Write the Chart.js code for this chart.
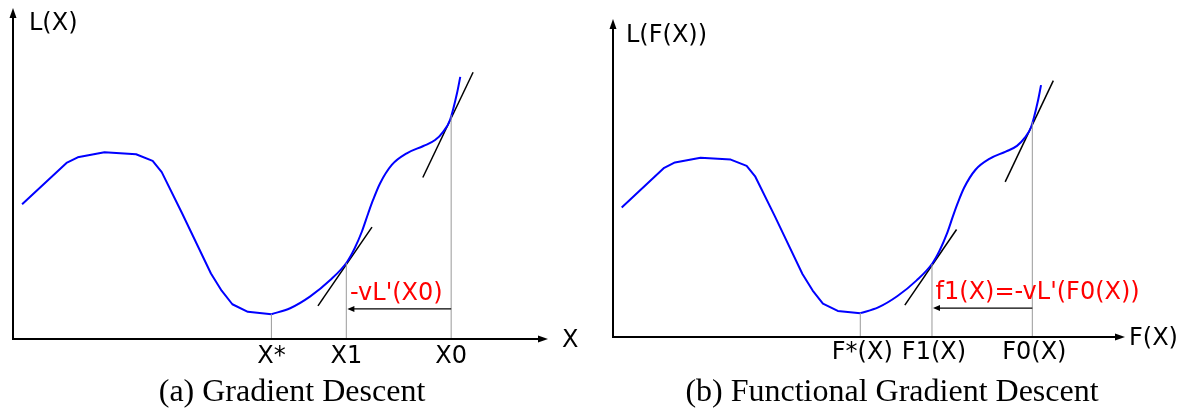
<!DOCTYPE html>
<html>
<head>
<meta charset="utf-8">
<script src="https://cdn.jsdelivr.net/npm/chart.js@4"></script>
<style>
  html, body { margin: 0; padding: 0; background: #fff; }
  #wrap { position: relative; width: 1194px; height: 412px; }
  .panel { position: absolute; top: 0; width: 597px; height: 412px; }
</style>
</head>
<body>
<div id="wrap">
  <div class="panel" style="left:0"><canvas id="chartA" width="597" height="412"></canvas></div>
  <div class="panel" style="left:597px"><canvas id="chartB" width="597" height="412"></canvas></div>
</div>
<script>
// loss curve, same shape in both panels (units 0..100 on both axes)
// left part is a polyline down to the minimum, right part is smooth
const leftX = [1.7, 10.0, 12.1, 17.1, 23.0, 26.1, 27.8, 31.6, 37.0, 39.0, 41.0, 43.9, 48.3];
const leftY = [40.7, 53.2, 54.9, 56.4, 55.8, 53.8, 50.4, 38.0, 19.8, 14.6, 10.5, 8.2, 7.5];
const rightX = [48.3, 51.8, 55.5, 59.3, 62.4, 63.8, 65.2, 66.4, 67.3, 68.6, 70.8, 73.6, 76.7, 78.9, 80.4, 81.7, 83.0, 83.6];
const rightY = [7.5, 9.3, 12.8, 17.8, 23.2, 27.2, 32.4, 38.0, 42.0, 47.0, 52.6, 56.1, 58.3, 60.1, 62.6, 66.2, 74.3, 79.2];

// tangent segments at X1 and X0
const tangent1X = [57.0, 67.1];
const tangent1Y = [10.0, 33.8];
const tangent0X = [76.6, 86.0];
const tangent0Y = [48.8, 80.6];

// marked positions on the x axis (optimum, step 1, start) and curve height there
const markX = [48.3, 62.3, 81.9];
const markY = [7.5, 23.0, 67.7];
const tickLabelsA = ['X*', 'X1', 'X0'];
const tickLabelsB = ['F*(X)', 'F1(X)', 'F0(X)'];

// step arrow from X0 back to X1
const stepFrom = 81.9;
const stepTo = 62.5;
const stepY = 9.1;
const stepLabelX = 63.0;
const stepLabelY = 11.9;

const axisMax = 100;

function arrowHead(ctx, x, y, ang, len, half) {
  ctx.beginPath();
  ctx.moveTo(x, y);
  ctx.lineTo(x - len * Math.cos(ang) - half * Math.sin(ang), y - len * Math.sin(ang) + half * Math.cos(ang));
  ctx.lineTo(x - len * Math.cos(ang) + half * Math.sin(ang), y - len * Math.sin(ang) - half * Math.cos(ang));
  ctx.closePath();
  ctx.fill();
}

const figurePlugin = {
  id: 'figure',
  afterDatasetsDraw(chart) {
    const o = chart.options.plugins.figure;
    const ctx = chart.ctx;
    const xs = chart.scales.x, ys = chart.scales.y;
    const x0 = xs.getPixelForValue(0), y0 = ys.getPixelForValue(0);
    const xEnd = xs.getPixelForValue(axisMax), yEnd = ys.getPixelForValue(axisMax);
    ctx.save();

    // axes with arrow heads
    ctx.strokeStyle = '#000';
    ctx.fillStyle = '#000';
    ctx.lineWidth = 2;
    ctx.beginPath();
    ctx.moveTo(x0, y0 + 1);
    ctx.lineTo(x0, yEnd + 8);
    ctx.moveTo(x0 - 1, y0);
    ctx.lineTo(xEnd - 8, y0);
    ctx.stroke();
    arrowHead(ctx, x0, yEnd, -Math.PI / 2, 10, 3.5);
    arrowHead(ctx, xEnd, y0, 0, 10, 3.5);

    // step arrow
    const sa = xs.getPixelForValue(stepFrom), sb = xs.getPixelForValue(stepTo), sy = ys.getPixelForValue(stepY);
    ctx.lineWidth = 1.2;
    ctx.beginPath();
    ctx.moveTo(sa, sy);
    ctx.lineTo(sb + 5, sy);
    ctx.stroke();
    arrowHead(ctx, sb, sy, Math.PI, 7, 3);

    // tick labels under the axis
    ctx.font = '24px "DejaVu Sans"';
    ctx.textAlign = 'center';
    ctx.textBaseline = 'alphabetic';
    o.ticks.forEach((t, i) => {
      ctx.fillText(t, xs.getPixelForValue(markX[i]) + o.tickShift, y0 + o.tickDrop);
    });

    // axis names
    ctx.font = '24px "DejaVu Sans"';
    ctx.textAlign = 'left';
    ctx.fillText(o.xName, xEnd + o.xNameGap, y0 + o.xNameDrop);
    ctx.fillText(o.yName, x0 + o.yNameGap, yEnd + o.yNameDrop);

    // red step label
    ctx.fillStyle = '#ff0000';
    ctx.font = '24px "DejaVu Sans"';
    ctx.fillText(o.stepLabel, xs.getPixelForValue(stepLabelX) + o.labelShift, ys.getPixelForValue(stepLabelY));

    // caption
    ctx.fillStyle = '#000';
    ctx.font = '32px "Liberation Serif"';
    ctx.textAlign = 'center';
    ctx.fillText(o.caption, o.captionX, 401);
    ctx.restore();
  }
};

function xy(xsArr, ysArr) {
  return xsArr.map((v, i) => ({ x: v, y: ysArr[i] }));
}

function makeChart(id, cfg) {
  const datasets = [];
  markX.forEach((v, i) => {
    datasets.push({
      data: xy([v, v], [0, markY[i]]),
      borderColor: '#9a9a9a', borderWidth: 1
    });
  });
  datasets.push({ data: xy(leftX, leftY), borderColor: '#0000ff', borderWidth: 2, borderJoinStyle: 'round' });
  datasets.push({
    data: xy(rightX, rightY),
    borderColor: '#0000ff', borderWidth: 2,
    cubicInterpolationMode: 'monotone'
  });
  datasets.push({ data: xy(tangent1X, tangent1Y), borderColor: '#000', borderWidth: 1.5 });
  datasets.push({ data: xy(tangent0X, tangent0Y), borderColor: '#000', borderWidth: 1.5 });
  datasets.forEach(d => { d.showLine = true; d.pointRadius = 0; d.clip = false; d.fill = false; });

  return new Chart(document.getElementById(id).getContext('2d'), {
    type: 'scatter',
    data: { datasets: datasets },
    options: {
      responsive: false,
      animation: false,
      layout: { padding: cfg.pad },
      scales: {
        x: { type: 'linear', min: 0, max: axisMax, display: false },
        y: { type: 'linear', min: 0, max: axisMax, display: false }
      },
      plugins: {
        legend: { display: false },
        tooltip: { enabled: false },
        figure: cfg
      }
    },
    plugins: [figurePlugin]
  });
}

makeChart('chartA', {
  pad: { left: 13, right: 49, top: 8, bottom: 73 },
  ticks: tickLabelsA, tickShift: 0, tickDrop: 24,
  xName: 'X', xNameGap: 14, xNameDrop: 8,
  yName: 'L(X)', yNameGap: 16, yNameDrop: 22,
  stepLabel: "-vL'(X0)", labelShift: 0,
  caption: '(a) Gradient Descent', captionX: 292
});

makeChart('chartB', {
  pad: { left: 16, right: 69, top: 19, bottom: 75 },
  ticks: tickLabelsB, tickShift: 2, tickDrop: 22,
  xName: 'F(X)', xNameGap: 4, xNameDrop: 8,
  yName: 'L(F(X))', yNameGap: 13, yNameDrop: 23,
  stepLabel: "f1(X)=-vL'(F0(X))", labelShift: 0,
  caption: '(b) Functional Gradient Descent', captionX: 295
});
</script>
</body>
</html>
